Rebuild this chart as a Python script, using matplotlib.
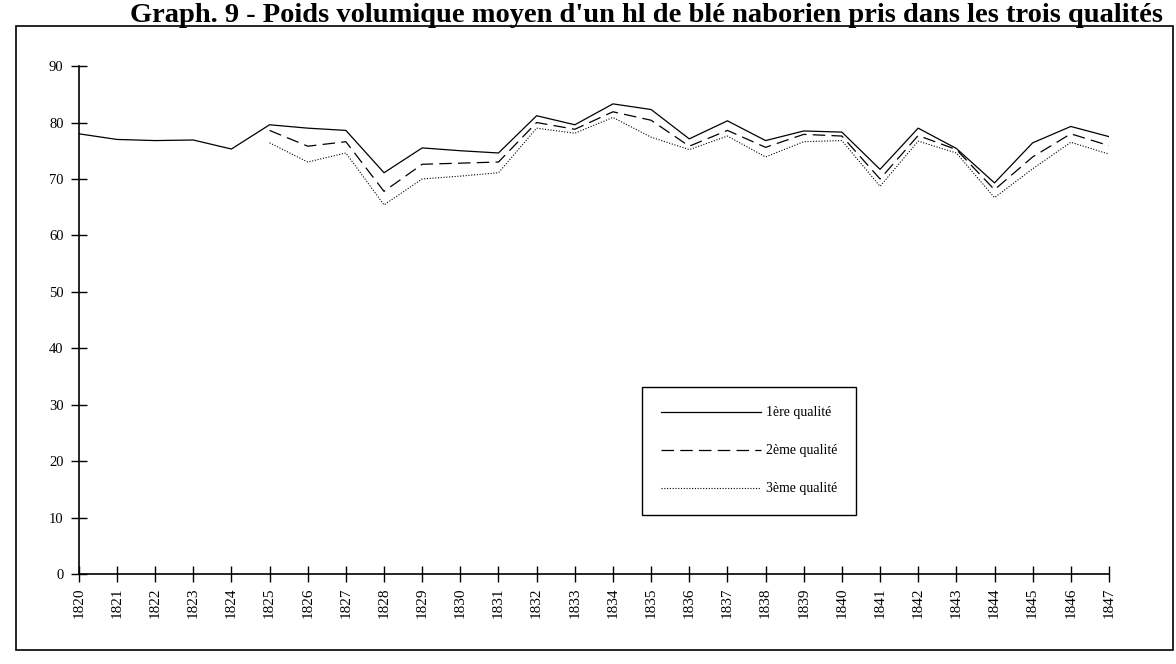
import matplotlib
matplotlib.use("Agg")
from matplotlib import pyplot as plt
from matplotlib.patches import Rectangle
import numpy as np

# Years and values (poids en kg par hl)
years = list(range(1820, 1848))
qual1 = [78.0, 77.0, 76.8, 76.9, 75.3, 79.6, 79.0, 78.6, 71.1, 75.5, 75.0, 74.6, 81.2, 79.6,
         83.3, 82.3, 77.1, 80.3, 76.8, 78.5, 78.3, 71.7, 79.0, 75.4, 69.3, 76.4, 79.3, 77.5]
qual2 = [None] * 5 + [78.6, 75.8, 76.6, 67.8, 72.6, 72.8, 73.0, 80.0, 78.8, 81.9, 80.4, 75.8,
                      78.6, 75.6, 77.9, 77.6, 70.0, 77.7, 75.2, 68.1, 73.9, 78.0, 75.9]
qual3 = [None] * 5 + [76.4, 73.0, 74.6, 65.4, 70.0, 70.5, 71.1, 79.0, 78.1, 80.9, 77.4, 75.2,
                      77.6, 73.9, 76.6, 76.8, 68.7, 76.7, 74.6, 66.7, 71.8, 76.5, 74.4]
labels = ["1ère qualité", "2ème qualité", "3ème qualité"]
title = "Graph. 9 - Poids volumique moyen d'un hl de blé naborien pris dans les trois qualités"

plt.rcParams['font.family'] = ['Liberation Serif', 'DejaVu Serif']

fig = plt.figure(figsize=(11.76, 6.64), dpi=100)
ax = fig.add_axes([0.067, 0.1355, 0.876, 0.765])

to_arr = lambda s: np.array([np.nan if v is None else v for v in s], dtype=float)
ax.plot(years, to_arr(qual1), color='black', lw=0.9, ls='-', label=labels[0])
ax.plot(years, to_arr(qual2), color='black', lw=0.9, ls=(0, (10, 5)), label=labels[1])
ax.plot(years, to_arr(qual3), color='black', lw=0.8, ls=(0, (1, 1.5)), label=labels[2])

ax.set_xlim(1820, 1847)
ax.set_ylim(0, 90)
ax.set_xticks(years)
ax.set_xticklabels([str(y) for y in years], rotation=90, fontsize=11)
ax.set_yticks(np.arange(0, 91, 10))
ax.tick_params(axis='y', labelsize=10.5, direction='inout', length=12, width=1, pad=5)
ax.tick_params(axis='x', direction='inout', length=12, width=1, pad=4)
for side in ['top', 'right']:
    ax.spines[side].set_visible(False)
for side in ['left', 'bottom']:
    ax.spines[side].set_linewidth(1.2)

leg = ax.legend(loc='upper left', bbox_to_anchor=(0.54, 0.382),
                fontsize=10, handlelength=7.2, handletextpad=0.3, labelspacing=1.8,
                borderpad=1.4, fancybox=False, framealpha=1, edgecolor='black')
leg.get_frame().set_linewidth(1.0)

# outer frame of the page figure
fig.patches.append(Rectangle((0.0136, 0.021), 0.984, 0.94, transform=fig.transFigure,
                             fill=False, edgecolor='black', lw=1.2))
fig.text(0.55, 0.958, title, ha='center', va='bottom', fontsize=20.5, fontweight='bold')

fig.savefig("out.png", dpi=100)
